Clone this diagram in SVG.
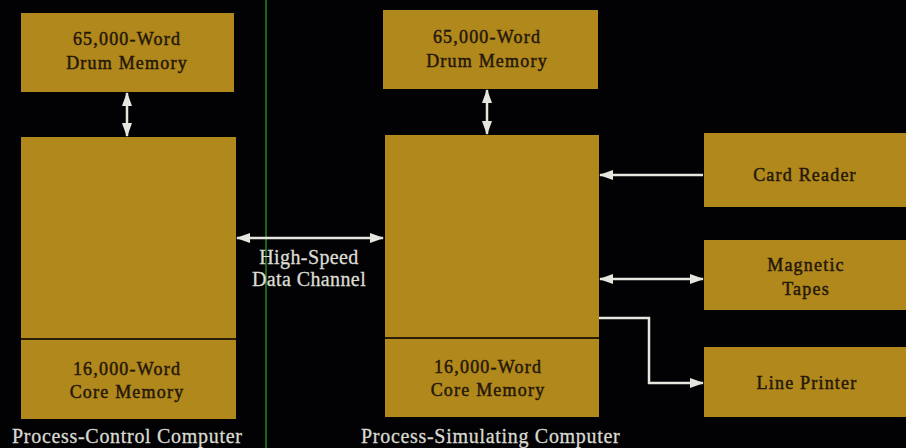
<svg xmlns="http://www.w3.org/2000/svg" width="906" height="448" viewBox="0 0 906 448">
  <style>
    .box { fill: #b0881b; }
    .div { stroke: #2b1c06; stroke-width: 2; }
    .lbl { font-family: "Liberation Serif", "DejaVu Serif", serif; font-size: 18px; fill: #24170a; stroke: #24170a; stroke-width: 0.45; text-anchor: middle; letter-spacing: 1.2px; }
    .cap { font-family: "Liberation Serif", "DejaVu Serif", serif; font-size: 20px; fill: #d9d9d0; stroke: #d9d9d0; stroke-width: 0.3; letter-spacing: 0.7px; }
    .mid { font-family: "Liberation Serif", "DejaVu Serif", serif; font-size: 20px; fill: #dcdcd2; stroke: #dcdcd2; stroke-width: 0.3; text-anchor: middle; letter-spacing: 0.4px; }
    .wire { stroke: #e6e6de; stroke-width: 2.5; fill: none; }
  </style>
  <defs>
    <marker id="ah" viewBox="0 0 14 10" refX="13" refY="5" markerWidth="6" markerHeight="4" orient="auto-start-reverse" markerUnits="strokeWidth">
      <path d="M0,0 L14,5 L0,10 Z" fill="#e6e6de"/>
    </marker>
  </defs>
  <rect width="906" height="448" fill="#020205"/>

  <!-- separator between the two machines -->
  <line x1="266" y1="0" x2="266" y2="448" stroke="#1d8a25" stroke-width="1.5"/>

  <!-- process-control computer -->
  <g id="pc-drum">
    <rect class="box" x="21" y="13" width="213" height="79"/>
    <text class="lbl" x="127" y="45">65,000-Word</text>
    <text class="lbl" x="127" y="69">Drum Memory</text>
  </g>
  <g id="pc-cpu">
    <rect class="box" x="21" y="137" width="215" height="282"/>
    <line class="div" x1="21" y1="339" x2="236" y2="339"/>
    <text class="lbl" x="127" y="375">16,000-Word</text>
    <text class="lbl" x="127" y="398">Core Memory</text>
  </g>
  <text class="cap" x="12" y="443">Process-Control Computer</text>

  <!-- process-simulating computer -->
  <g id="ps-drum">
    <rect class="box" x="383" y="10" width="215" height="79"/>
    <text class="lbl" x="487" y="43">65,000-Word</text>
    <text class="lbl" x="487" y="67">Drum Memory</text>
  </g>
  <g id="ps-cpu">
    <rect class="box" x="385" y="135" width="214" height="282"/>
    <line class="div" x1="385" y1="338" x2="599" y2="338"/>
    <text class="lbl" x="488" y="373">16,000-Word</text>
    <text class="lbl" x="488" y="396">Core Memory</text>
  </g>
  <text class="cap" x="361" y="443">Process-Simulating Computer</text>

  <!-- peripherals -->
  <g id="card-reader">
    <rect class="box" x="704" y="133" width="202" height="74"/>
    <text class="lbl" x="805" y="181">Card Reader</text>
  </g>
  <g id="magnetic-tapes">
    <rect class="box" x="704" y="240" width="202" height="70"/>
    <text class="lbl" x="806" y="271">Magnetic</text>
    <text class="lbl" x="806" y="295">Tapes</text>
  </g>
  <g id="line-printer">
    <rect class="box" x="704" y="347" width="202" height="70"/>
    <text class="lbl" x="807" y="389">Line Printer</text>
  </g>

  <!-- connectors -->
  <g id="connectors">
    <line class="wire" x1="127" y1="93" x2="127" y2="136" marker-start="url(#ah)" marker-end="url(#ah)"/>
    <line class="wire" x1="487" y1="90" x2="487" y2="134" marker-start="url(#ah)" marker-end="url(#ah)"/>
    <line class="wire" x1="237" y1="238" x2="383" y2="238" marker-start="url(#ah)" marker-end="url(#ah)"/>
    <line class="wire" x1="703" y1="175" x2="600" y2="175" marker-end="url(#ah)"/>
    <line class="wire" x1="600" y1="279" x2="703" y2="279" marker-start="url(#ah)" marker-end="url(#ah)"/>
    <polyline class="wire" points="599,318 649,318 649,383 703,383" marker-end="url(#ah)"/>
  </g>
  <text class="mid" x="309" y="264">High-Speed</text>
  <text class="mid" x="309" y="286">Data Channel</text>
</svg>
